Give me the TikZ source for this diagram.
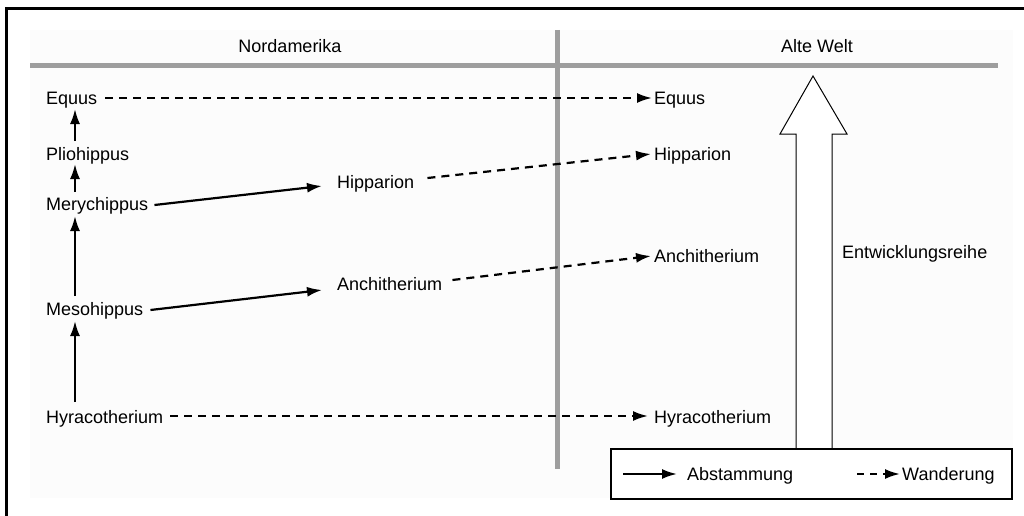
\documentclass[tikz,border=0pt]{standalone}
\usepackage{fontspec}
\setmainfont{Liberation Sans}
\usetikzlibrary{arrows.meta}
\begin{document}
\begin{tikzpicture}[x=1pt,y=-1pt,
  lbl/.style={anchor=base west,inner sep=0pt,font=\fontsize{18}{20}\selectfont},
  hdr/.style={anchor=base,inner sep=0pt,font=\fontsize{18}{20}\selectfont},
  desc/.style={line width=2.2pt,-{Latex[length=15pt,width=10pt]}},
  migr/.style={line width=2.2pt,dash pattern=on 8pt off 6pt,-{Latex[length=15pt,width=10pt]}},
  grayline/.style={line width=5pt,color=black!38},
]
\useasboundingbox (0,0) rectangle (1024,516);
% frame (top and left visible)
\draw[line width=3pt] (1024,8.5) -- (6.5,8.5) -- (6.5,516);
% faint background
\fill[black!1] (30,30) rectangle (1013,498);
% grid lines
\draw[grayline] (30,66) -- (998,66);
\draw[grayline] (557,30) -- (557,469);
% headers
\node[hdr] (na) at (290,53) {Nordamerika};
\node[hdr] (aw) at (817,53) {Alte Welt};
% left column
\node[lbl] (equus) at (46,105) {Equus};
\node[lbl] (plio) at (46,160) {Pliohippus};
\node[lbl] (mery) at (46,210) {Merychippus};
\node[lbl] (meso) at (46,315) {Mesohippus};
\node[lbl] (hyra) at (46,423) {Hyracotherium};
% middle
\node[lbl] (hipm) at (337,188) {Hipparion};
\node[lbl] (anchm) at (337,290) {Anchitherium};
% right
\node[lbl] (equusr) at (654,105) {Equus};
\node[lbl] (hipr) at (654,160) {Hipparion};
\node[lbl] (anchr) at (654,262) {Anchitherium};
\node[lbl] (hyrar) at (654,423) {Hyracotherium};
\node[lbl] (entw) at (842,258) {Entwicklungsreihe};
% vertical descent arrows
\coordinate (c1) at (75,141);
\coordinate (c1e) at (75,109);
\draw[desc] (c1) -- (c1e);
\coordinate (c2) at (75,192);
\coordinate (c2e) at (75,164);
\draw[desc] (c2) -- (c2e);
\coordinate (c3) at (75,296);
\coordinate (c3e) at (75,216);
\draw[desc] (c3) -- (c3e);
\coordinate (c4) at (75,402);
\coordinate (c4e) at (75,321);
\draw[desc] (c4) -- (c4e);
% horizontal descent arrows
\draw[desc] ([xshift=6pt,yshift=5pt]mery.base east) -- ([xshift=-15pt,yshift=2pt]hipm.base west);
\draw[desc] ([xshift=7pt,yshift=5pt]meso.base east) -- ([xshift=-15pt,yshift=0pt]anchm.base west);
% migration arrows
\draw[migr] ([xshift=8pt,yshift=7pt]equus.base east) -- ([xshift=-2pt,yshift=7pt]equusr.base west);
\draw[migr] ([xshift=13pt,yshift=10pt]hipm.base east) -- ([xshift=-3pt,yshift=6pt]hipr.base west);
\draw[migr] ([xshift=10pt,yshift=10pt]anchm.base east) -- ([xshift=-3pt,yshift=6pt]anchr.base west);
\draw[migr] ([xshift=7pt,yshift=7pt]hyra.base east) -- ([xshift=-6pt,yshift=7pt]hyrar.base west);
% big hollow arrow
\draw[line width=1pt,fill=white] (796,449) -- (796,134) -- (780,134) -- (813,76) -- (847,134) -- (832,134) -- (832,449);
% legend
\node[draw,line width=1.3pt,fill=white,minimum width=401pt,minimum height=50pt,inner sep=0pt] (leg) at (811.5,474) {};
\node[lbl] (abst) at (687,480) {Abstammung};
\node[lbl] (wand) at (902,480) {Wanderung};
\coordinate (l1) at (623,474);
\draw[desc] (l1) -- ([xshift=-10pt,yshift=6pt]abst.base west);
\coordinate (l2) at (857,474);
\draw[line width=2.2pt,dash pattern=on 7pt off 6pt,-{Latex[length=15pt,width=10pt]}] (l2) -- ([xshift=-2pt,yshift=6pt]wand.base west);
\end{tikzpicture}
\end{document}
